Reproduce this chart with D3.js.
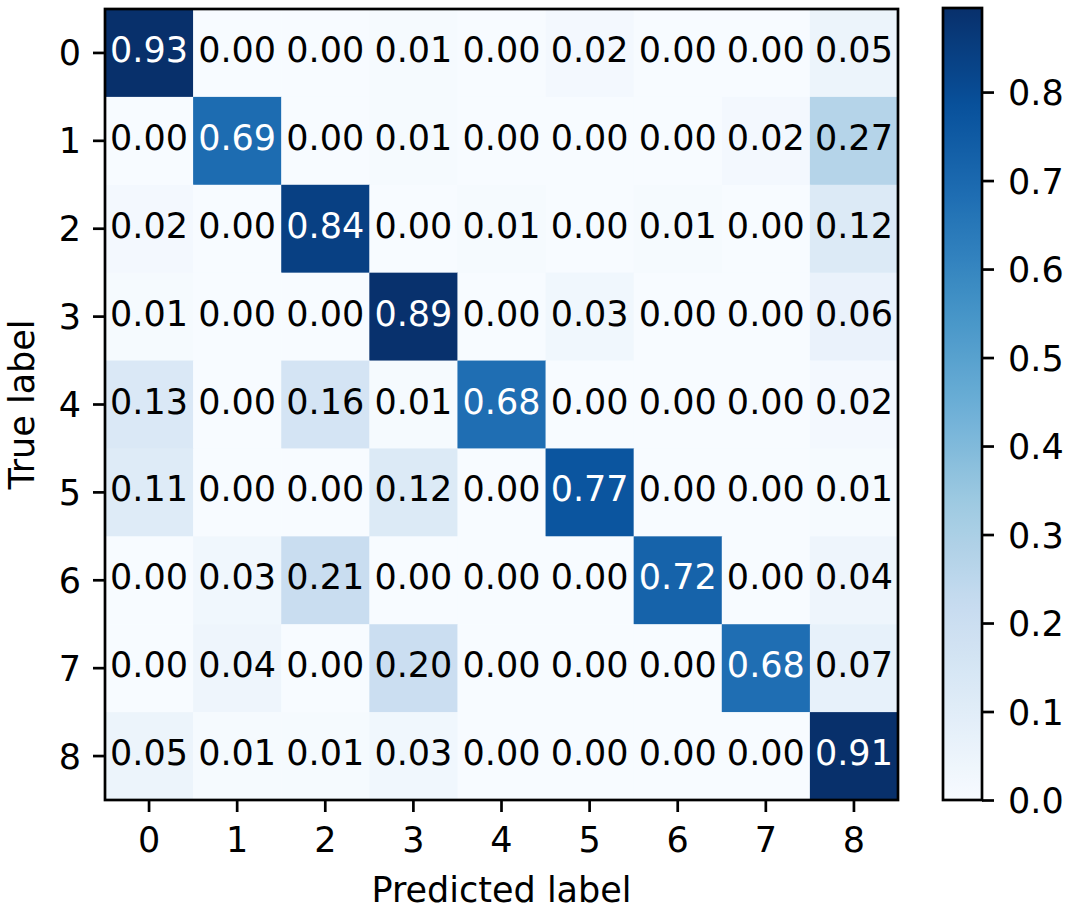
<!DOCTYPE html>
<html>
<head>
<meta charset="utf-8">
<script src="https://cdn.jsdelivr.net/npm/d3@7"></script>
<style>
  body { margin: 0; background: #fff; }
  text { font-family: "DejaVu Sans", sans-serif; }
</style>
</head>
<body>
<svg id="chart" width="1072" height="916"></svg>
<script>
const predictedLabels = ["0","1","2","3","4","5","6","7","8"];
const trueLabels = ["0","1","2","3","4","5","6","7","8"];
const row0 = [0.93,0.00,0.00,0.01,0.00,0.02,0.00,0.00,0.05];
const row1 = [0.00,0.69,0.00,0.01,0.00,0.00,0.00,0.02,0.27];
const row2 = [0.02,0.00,0.84,0.00,0.01,0.00,0.01,0.00,0.12];
const row3 = [0.01,0.00,0.00,0.89,0.00,0.03,0.00,0.00,0.06];
const row4 = [0.13,0.00,0.16,0.01,0.68,0.00,0.00,0.00,0.02];
const row5 = [0.11,0.00,0.00,0.12,0.00,0.77,0.00,0.00,0.01];
const row6 = [0.00,0.03,0.21,0.00,0.00,0.00,0.72,0.00,0.04];
const row7 = [0.00,0.04,0.00,0.20,0.00,0.00,0.00,0.68,0.07];
const row8 = [0.05,0.01,0.01,0.03,0.00,0.00,0.00,0.00,0.91];
const colorbarTicks = [0.0,0.1,0.2,0.3,0.4,0.5,0.6,0.7,0.8];
const colorMax = 0.895;

const matrix = [row0,row1,row2,row3,row4,row5,row6,row7,row8];
const cells = [];
matrix.forEach((row, i) => row.forEach((v, j) => cells.push({t: trueLabels[i], p: predictedLabels[j], v})));

const blues = ["#f7fbff","#deebf7","#c6dbef","#9ecae1","#6baed6","#4292c6","#2171b5","#08519c","#08306b"];
const interp = d3.piecewise(d3.interpolateRgb, blues);
const color = v => interp(Math.max(0, Math.min(1, v / colorMax)));

const svg = d3.select("#chart");
const L = 105, R = 898, T = 9, B = 800;
const fs = 35;

const x = d3.scaleBand().domain(predictedLabels).range([L, R]);
const y = d3.scaleBand().domain(trueLabels).range([T, B]);

svg.append("g").selectAll("rect").data(cells).join("rect")
  .attr("x", d => x(d.p)).attr("y", d => y(d.t))
  .attr("width", x.bandwidth() + 0.5).attr("height", y.bandwidth() + 0.5)
  .attr("fill", d => color(d.v));

const thresh = d3.max(cells, d => d.v) / 2;
svg.append("g").selectAll("text").data(cells).join("text")
  .attr("x", d => x(d.p) + x.bandwidth() / 2)
  .attr("y", d => y(d.t) + y.bandwidth() / 2 + 9)
  .attr("text-anchor", "middle")
  .attr("font-size", fs)
  .attr("fill", d => d.v > thresh ? "#fff" : "#000")
  .text(d => d.v.toFixed(2));

// axes
const xAxis = svg.append("g").attr("transform", `translate(0,${B})`)
  .call(d3.axisBottom(x).tickSize(12).tickSizeOuter(0).tickPadding(14));
const yAxis = svg.append("g").attr("transform", `translate(${L},0)`)
  .call(d3.axisLeft(y).tickSize(12).tickSizeOuter(0).tickPadding(12));
[xAxis, yAxis].forEach(a => {
  a.select(".domain").remove();
  a.selectAll(".tick line").attr("stroke", "#000").attr("stroke-width", 2.7);
  a.selectAll(".tick text").attr("font-size", fs).attr("fill", "#000")
    .attr("font-family", "DejaVu Sans, sans-serif");
});
xAxis.selectAll(".tick text").attr("dy", null).attr("y", 52);
yAxis.selectAll(".tick text").attr("dy", null).attr("y", 12.5);

svg.append("rect").attr("x", L).attr("y", T).attr("width", R - L).attr("height", B - T)
  .attr("fill", "none").attr("stroke", "#000").attr("stroke-width", 2.7);

svg.append("text").attr("x", (L + R) / 2).attr("y", 902).attr("text-anchor", "middle")
  .attr("font-size", fs).text("Predicted label");
svg.append("text").attr("transform", `translate(34,${(T + B) / 2}) rotate(-90)`)
  .attr("text-anchor", "middle").attr("font-size", fs).text("True label");

// colorbar
const cL = 943, cR = 982, cT = 8, cB = 800;
const defs = svg.append("defs");
const grad = defs.append("linearGradient").attr("id", "cbar")
  .attr("x1", 0).attr("y1", 1).attr("x2", 0).attr("y2", 0);
d3.range(0, 1.0001, 0.02).forEach(t => {
  grad.append("stop").attr("offset", t).attr("stop-color", interp(t));
});
svg.append("rect").attr("x", cL).attr("y", cT).attr("width", cR - cL).attr("height", cB - cT)
  .attr("fill", "url(#cbar)");
const cy = d3.scaleLinear().domain([0, colorMax]).range([cB, cT]);
const cAxis = svg.append("g").attr("transform", `translate(${cR},0)`)
  .call(d3.axisRight(cy).tickValues(colorbarTicks).tickFormat(d3.format(".1f")).tickSize(12).tickSizeOuter(0).tickPadding(14));
cAxis.select(".domain").remove();
cAxis.selectAll(".tick line").attr("stroke", "#000").attr("stroke-width", 2.7);
cAxis.selectAll(".tick text").attr("font-size", fs).attr("fill", "#000")
  .attr("font-family", "DejaVu Sans, sans-serif").attr("dy", null).attr("y", 12.5);
svg.append("rect").attr("x", cL).attr("y", cT).attr("width", cR - cL).attr("height", cB - cT)
  .attr("fill", "none").attr("stroke", "#000").attr("stroke-width", 2.7);
</script>
</body>
</html>
